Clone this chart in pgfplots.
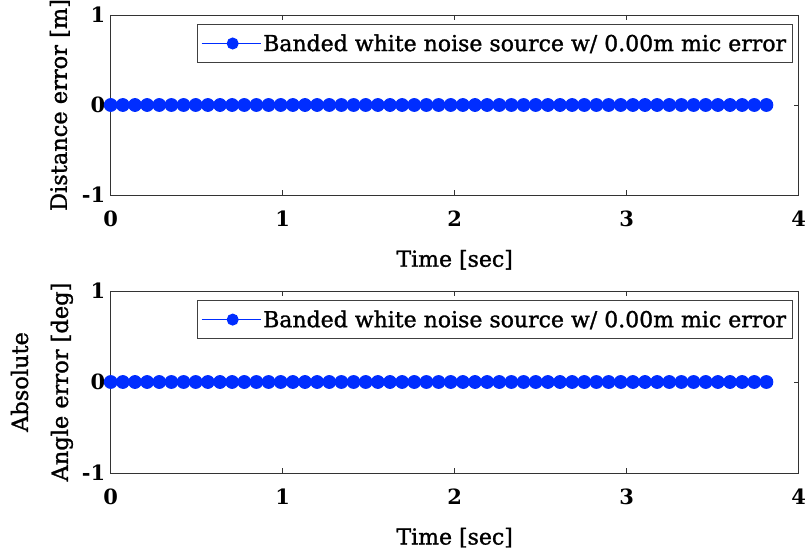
\documentclass[border=0pt]{standalone}
\usepackage{pgfplots}
\pgfplotsset{compat=1.18}
\usepackage{pgfplotstable}
\usepackage{fontspec}
\setmainfont{DejaVu Serif}
\newfontfamily\medserif{DejaVu Serif}[BoldFont={DejaVu Serif}, BoldFeatures={FakeBold=1.3}]
\definecolor{srcblue}{RGB}{0,45,255}

% sample times and errors (all zero) for the banded white noise source
\pgfplotstableread{
t err
0 0
0.0706 0
0.1412 0
0.2118 0
0.2824 0
0.3530 0
0.4236 0
0.4942 0
0.5648 0
0.6354 0
0.7060 0
0.7766 0
0.8472 0
0.9178 0
0.9884 0
1.0590 0
1.1296 0
1.2002 0
1.2708 0
1.3414 0
1.4120 0
1.4826 0
1.5532 0
1.6238 0
1.6944 0
1.7650 0
1.8356 0
1.9062 0
1.9768 0
2.0474 0
2.1180 0
2.1886 0
2.2592 0
2.3298 0
2.4004 0
2.4710 0
2.5416 0
2.6122 0
2.6828 0
2.7534 0
2.8240 0
2.8946 0
2.9652 0
3.0358 0
3.1064 0
3.1770 0
3.2476 0
3.3182 0
3.3888 0
3.4594 0
3.5300 0
3.6006 0
3.6712 0
3.7418 0
3.8124 0
}\errdata

\pgfplotsset{
  errpanel/.style={
    scale only axis,
    width=688bp,
    xmin=0, xmax=4, ymin=-1, ymax=1,
    xtick={0,1,2,3,4}, ytick={-1,0,1},
    tick align=inside,
    major tick length=5bp,
    axis line style={line width=0.8bp, black!80},
    every tick/.style={black!80, line width=0.8bp},
    /pgf/number format/assume math mode=true,
    tick label style={font=\fontsize{21bp}{25bp}\selectfont\bfseries},
    xticklabel style={yshift=-12bp},
    yticklabel style={xshift=-2bp},
    label style={font=\fontsize{22bp}{26bp}\selectfont\medserif\bfseries},
    legend style={font=\fontsize{22bp}{26bp}\selectfont\medserif\bfseries,
      draw=black!75, line width=0.8bp, inner xsep=4bp, inner ysep=8bp},
    legend cell align=left,
    legend image code/.code={
      \draw[srcblue, line width=1bp] (0bp,0bp) -- (59bp,0bp);
      \fill[srcblue] (31bp,0bp) circle (5.5bp);
    },
  },
  errline/.style={srcblue, line width=1bp, mark=*, mark size=6.4bp,
    mark options={fill=srcblue, draw=srcblue}},
}

\begin{document}
\begin{tikzpicture}
\path[use as bounding box] (0,0) rectangle (805bp,550bp);

\begin{axis}[errpanel, at={(110.7bp,355bp)}, anchor=south west, height=180bp,
  xlabel={Time [sec]},
  xlabel style={at={(axis description cs:0.5,-0.36)}, anchor=center},
  ylabel={Distance error [m]},
  ylabel style={at={(axis description cs:-0.074,0.5)}, anchor=center,
    font=\fontsize{22.5bp}{26bp}\selectfont\medserif\bfseries},
  legend style={at={(axis description cs:0.991,0.95)}, anchor=north east}]
\addplot[errline] table[x=t, y=err] {\errdata};
\addlegendentry{Banded white noise source w/ 0.00m mic error}
\end{axis}

\begin{axis}[errpanel, at={(110.7bp,77bp)}, anchor=south west, height=182bp,
  xlabel={Time [sec]},
  xlabel style={at={(axis description cs:0.5,-0.355)}, anchor=center},
  ylabel={Absolute\\Angle error [deg]},
  ylabel style={at={(axis description cs:-0.1,0.5)}, anchor=center, align=center,
    font=\fontsize{22.5bp}{40bp}\selectfont\medserif\bfseries},
  legend style={at={(axis description cs:0.991,0.95)}, anchor=north east}]
\addplot[errline] table[x=t, y=err] {\errdata};
\addlegendentry{Banded white noise source w/ 0.00m mic error}
\end{axis}
\end{tikzpicture}
\end{document}
